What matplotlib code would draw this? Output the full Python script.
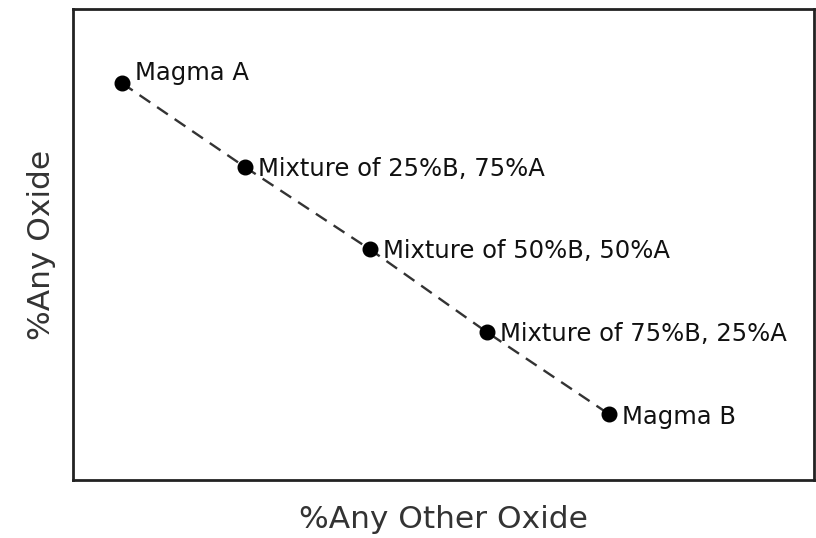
import matplotlib
matplotlib.use("Agg")
import matplotlib.pyplot as plt

pct_b = [0, 25.3, 50.9, 74.9, 100]
any_oxide = [100, 74.6, 49.8, 24.8, 0]
labels = ["Magma A", "Mixture of 25%B, 75%A", "Mixture of 50%B, 50%A",
          "Mixture of 75%B, 25%A", "Magma B"]
label_dy = [2.5, -6.5, -6.5, -6.5, -7.0]

fig = plt.figure(figsize=(8.16, 5.38), dpi=100)
ax = fig.add_axes([73/816, 1-480/538, (814-73)/816, (480-9)/538])

ax.plot(pct_b, any_oxide, linestyle=(0, (5.5, 3.5)), color="#333333", lw=1.7, zorder=1)
ax.plot(pct_b, any_oxide, 'o', color="black", markersize=10.5, zorder=2)

for x, y, t, dy in zip(pct_b, any_oxide, labels, label_dy):
    ax.annotate(t, (x, y), xytext=(9.5, dy), textcoords="offset points",
                va="baseline", ha="left", fontsize=17.5, color="#111111")

ax.set_xlim(-10.06, 142.1)
ax.set_ylim(-19.9, 122.4)
ax.set_xticks([])
ax.set_yticks([])
for s in ax.spines.values():
    s.set_linewidth(2)
    s.set_color("#222222")

ax.set_xlabel("%Any Other Oxide", fontsize=22.5, color="#333333", labelpad=18)
ax.set_ylabel("%Any Oxide", fontsize=22.5, color="#333333", labelpad=12)

fig.savefig("out.png", dpi=100)
